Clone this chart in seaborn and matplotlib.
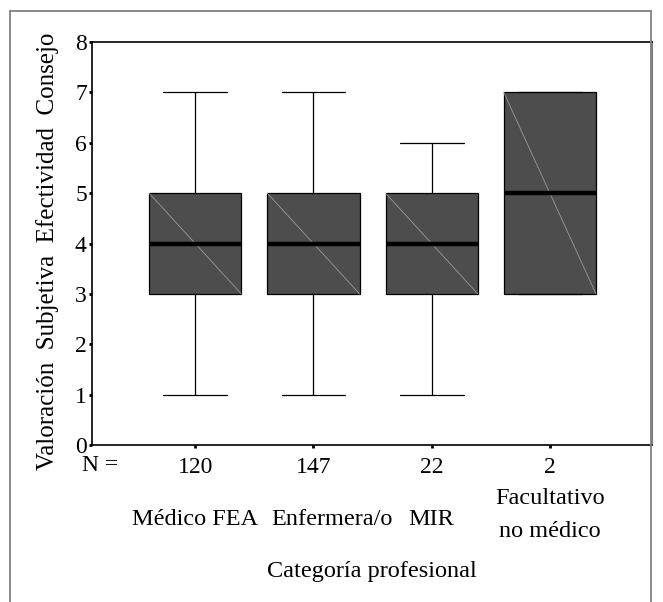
import matplotlib
matplotlib.use("Agg")
import matplotlib.pyplot as plt
from matplotlib.lines import Line2D
import numpy as np
import pandas as pd
import seaborn as sns

# resumen de cinco numeros
categorias = ["Médico FEA", "Enfermera/o", "MIR", "Facultativo\nno médico"]
n_casos = [120, 147, 22, 2]
minimos = [1, 1, 1, 3]
q1 = [3, 3, 3, 3]
medianas = [4, 4, 4, 5]
q3 = [5, 5, 5, 7]
maximos = [7, 7, 6, 7]

# con 5 valores los percentiles lineales devuelven exactamente el resumen
filas = []
for i, cat in enumerate(categorias):
    for v in (minimos[i], q1[i], medianas[i], q3[i], maximos[i]):
        filas.append({"cat": cat, "val": v})
df = pd.DataFrame(filas)

sns.set_theme(style="white")
plt.rcParams["font.family"] = ["Liberation Serif", "DejaVu Serif"]
plt.rcParams["text.color"] = "black"
plt.rcParams["axes.labelcolor"] = "black"
plt.rcParams["xtick.color"] = "black"
plt.rcParams["ytick.color"] = "black"

W, H = 663, 602
fig = plt.figure(figsize=(W / 100, H / 100), dpi=100)
# ejes en pixeles: izq 92, der 652, arriba 42, abajo 445
ax = fig.add_axes([92 / W, (H - 445) / H, (652 - 92) / W, (445 - 42) / H])

ancho = 0.78
sns.boxplot(data=df, x="cat", y="val", order=categorias, ax=ax,
            color="#4d4d4d", saturation=1, width=ancho,
            linecolor="black", linewidth=0.9,
            medianprops=dict(color="black", linewidth=3.2),
            capwidths=0.54)

# linea diagonal fina que deja el render original
for i in range(len(categorias)):
    ax.plot([i - ancho / 2, i + ancho / 2], [q3[i], q1[i]],
            color="#9a9a9a", lw=0.6, zorder=2.05)

ax.set_xlim(-0.873, 3.864)
ax.set_ylim(0, 8)
ax.set_yticks(range(0, 9))
ax.set_xticks(range(len(categorias)))
ax.set_xticklabels([str(n) for n in n_casos])
ax.set_xlabel("")
ax.set_ylabel("Valoración  Subjetiva  Efectividad  Consejo", fontsize=18)
ax.yaxis.set_label_coords(-(92 - 59) / (652 - 92), 0.481)

ax.tick_params(axis="both", which="major", direction="out", length=2.2,
               width=2, labelsize=17, pad=1.5,
               left=True, bottom=True)
ax.tick_params(axis="x", pad=6.5)

for s in ["top", "left", "bottom"]:
    ax.spines[s].set_color("black")
    ax.spines[s].set_linewidth(1.2)
ax.spines["right"].set_color("#808080")
ax.spines["right"].set_linewidth(1.5)

tr = ax.get_xaxis_transform()
ax.text(-0.805, -0.05, "N =", transform=tr, ha="center", va="center",
        fontsize=17)
desplaz = [0.0, 0.16, 0.0, 0.0]
for i, cat in enumerate(categorias):
    yy = -0.174 if "\n" in cat else -0.186
    ax.text(i + desplaz[i], yy, cat, transform=tr, ha="center", va="center",
            fontsize=17.5, linespacing=1.72)
ax.text(0.5, -0.315, "Categoría profesional", transform=ax.transAxes,
        ha="center", va="center", fontsize=17.5)

# marco exterior
def px(x, y):
    return x / W, 1 - y / H

gris = "#808080"
for (x0, y0), (x1, y1) in [((10, 11), (651, 11)), ((10, 11), (10, 602)),
                           ((651, 11), (651, 602))]:
    a, b = px(x0, y0)
    c, d = px(x1, y1)
    fig.add_artist(Line2D([a, c], [b, d], color=gris, lw=1.3))

fig.savefig("out.png", dpi=100)
